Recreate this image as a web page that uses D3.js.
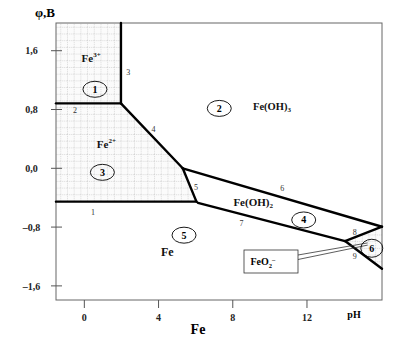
<!DOCTYPE html>
<html><head><meta charset="utf-8">
<script src="https://cdn.jsdelivr.net/npm/d3@7/dist/d3.min.js"></script>
<style>body{margin:0;background:#fff}svg{display:block}text{font-family:"Liberation Serif","Times New Roman",serif}</style>
</head><body>
<script>
// ---- data (pH, potential in V) ----
const xTicks = [0, 4, 8, 12];
const yTicks = [1.6, 0.8, 0.0, -0.8, -1.6];
const yTickLabels = ["1,6", "0,8", "0,0", "\u20130,8", "\u20131,6"];
const line1 = [[-1.5, -0.454], [6.07, -0.454]];
const line2 = [[-1.5, 0.884], [2.0, 0.884]];
const line3 = [[2.0, 1.977], [2.0, 0.884]];
const line4 = [[2.0, 0.884], [5.33, 0.0]];
const line5 = [[5.33, 0.0], [6.07, -0.454]];
const line6 = [[5.33, 0.0], [16.07, -0.795]];
const line7 = [[6.15, -0.47], [14.08, -0.99]];
const line8 = [[14.08, -0.99], [16.07, -0.795]];
const line9 = [[14.08, -0.99], [16.07, -1.366]];
const ionRegion = [[-1.5, 1.977], [2.0, 1.977], [2.0, 0.884], [5.33, 0.0], [6.07, -0.454], [-1.5, -0.454]];
const region6 = [[14.08, -0.99], [16.07, -0.795], [16.07, -1.366]];
const lineLabels = ["1","2","3","4","5","6","7","8","9"];
const lineLabelPos = [[0.5,-0.6],[-0.47,0.8],[2.4,1.31],[3.75,0.53],[6.05,-0.25],[10.7,-0.27],[8.5,-0.75],[14.6,-0.86],[14.6,-1.2]];
const regionNums = ["1","2","3","4","5","6"];
const regionPos = [[0.6,1.075],[7.3,0.815],[1.0,-0.055],[11.85,-0.703],[5.4,-0.91],[15.52,-1.088]];
const species = [
  {base:"Fe", sup:"3+", sub:"", at:[-0.12,1.44], size:11},
  {base:"Fe", sup:"2+", sub:"", at:[0.7,0.27], size:11},
  {base:"Fe(OH)", sup:"", sub:"3", at:[9.12,0.793], size:10.5},
  {base:"Fe(OH)", sup:"", sub:"2", at:[8.06,-0.51], size:11},
  {base:"Fe", sup:"", sub:"", at:[4.16,-1.2], size:12}
];

const W = 393, H = 341;
const x = d3.scaleLinear().domain([-1.5, 16.07]).range([56, 382]);
const y = d3.scaleLinear().domain([-1.792, 1.977]).range([300, 23]);

const svg = d3.select("body").append("svg").attr("width", W).attr("height", H);
const defs = svg.append("defs");
const pat = defs.append("pattern").attr("id","grid").attr("patternUnits","userSpaceOnUse")
  .attr("width",6.7).attr("height",6.7);
pat.append("rect").attr("width",6.7).attr("height",6.7).attr("fill","#fbfbfb");
pat.append("path").attr("d","M0,0.5H6.7M0.5,0V6.7").attr("stroke","#d0d0d0").attr("stroke-width",0.8)
  .attr("stroke-dasharray","1,1").attr("fill","none");

const line = d3.line().x(d => x(d[0])).y(d => y(d[1]));

svg.append("path").datum(ionRegion).attr("d", d => line(d) + "Z").attr("fill","url(#grid)");
svg.append("path").datum(region6).attr("d", d => line(d) + "Z").attr("fill","url(#grid)");

// frame
svg.append("rect").attr("x", x(-1.5)).attr("y", y(1.977)).attr("width", x(16.07)-x(-1.5))
  .attr("height", y(-1.792)-y(1.977)).attr("fill","none").attr("stroke","#666").attr("stroke-width",1);

// axes
const yAxis = d3.axisLeft(y).tickValues(yTicks).tickSize(0).tickFormat((d,i)=>yTickLabels[i]);
svg.append("g").attr("transform",`translate(${x(-1.5)},0)`).call(yAxis).call(g=>{
  g.select(".domain").remove();
  g.selectAll("text").attr("x", 31.5 - x(-1.5)).attr("text-anchor","middle")
    .attr("font-size",10).attr("font-weight","bold").attr("fill","#222");
});
svg.append("g").selectAll("line").data(yTicks).join("line")
  .attr("x1",51).attr("x2",62).attr("y1",d=>y(d)).attr("y2",d=>y(d)).attr("stroke","#555").attr("stroke-width",1);

const xAxis = d3.axisBottom(x).tickValues(xTicks).tickSize(8).tickPadding(6).tickFormat(d3.format("d"));
svg.append("g").attr("transform",`translate(0,${y(-1.792)})`).call(xAxis).call(g=>{
  g.select(".domain").remove();
  g.selectAll("line").attr("stroke","#555");
  g.selectAll("text").attr("font-size",10).attr("font-weight","bold").attr("fill","#222");
});

// boundary lines
[line1,line2,line3,line4,line5,line6,line7,line8,line9].forEach(l=>{
  svg.append("path").datum(l).attr("d",line).attr("fill","none").attr("stroke","#000")
    .attr("stroke-width",2.4).attr("stroke-linecap","round");
});

// callout for FeO2-
const cal = svg.append("g");
cal.append("path").attr("d", `M298,255 L${x(15.3)},${y(-1.015)} M298,259.5 L${x(15.3)},${y(-1.045)}`)
  .attr("stroke","#333").attr("stroke-width",0.8).attr("fill","none");
cal.append("rect").attr("x",244).attr("y",250).attr("width",54).attr("height",23)
  .attr("fill","#fff").attr("stroke","#333").attr("stroke-width",0.8);
const ft = cal.append("text").attr("x",250.5).attr("y",265).attr("font-size",10).attr("font-weight","bold");
ft.append("tspan").text("FeO");
ft.append("tspan").attr("dy",2.5).attr("font-size",6.5).text("2");
ft.append("tspan").attr("dy",-6).attr("font-size",6.5).text("\u2013");

// line numbers
svg.append("g").selectAll("text").data(lineLabels).join("text")
  .attr("x",(d,i)=>x(lineLabelPos[i][0])).attr("y",(d,i)=>y(lineLabelPos[i][1])+3)
  .attr("text-anchor","middle").attr("font-size",8).attr("fill","#333").text(d=>d);

// region numbers (ellipses)
const rg = svg.append("g").selectAll("g").data(regionNums).join("g")
  .attr("transform",(d,i)=>`translate(${x(regionPos[i][0])},${y(regionPos[i][1])})`);
rg.append("ellipse").attr("rx",(d,i)=> i===5?11:12).attr("ry",(d,i)=> i===5?9:8)
  .attr("fill","none").attr("stroke","#000").attr("stroke-width",0.9);
rg.append("text").attr("y",3.5).attr("text-anchor","middle").attr("font-size",10)
  .attr("font-weight","bold").text(d=>d);

// species labels
species.forEach(s=>{
  const t = svg.append("text").attr("x",x(s.at[0])).attr("y",y(s.at[1]))
    .attr("font-size", s.size).attr("font-weight","bold").attr("fill","#111");
  t.append("tspan").text(s.base);
  if (s.sup) t.append("tspan").attr("dy",-5).attr("font-size",7).text(s.sup);
  if (s.sub) t.append("tspan").attr("dy",2).attr("font-size",7).text(s.sub);
});

// axis titles
svg.append("text").attr("x",45).attr("y",17).attr("text-anchor","middle").attr("font-size",13)
  .attr("font-weight","bold").text("\u03c6,B");
svg.append("text").attr("x",198).attr("y",334).attr("text-anchor","middle").attr("font-size",14)
  .attr("font-weight","bold").text("Fe");
svg.append("text").attr("x",354).attr("y",318).attr("text-anchor","middle").attr("font-size",10)
  .attr("font-weight","bold").text("pH");
</script>
</body></html>
